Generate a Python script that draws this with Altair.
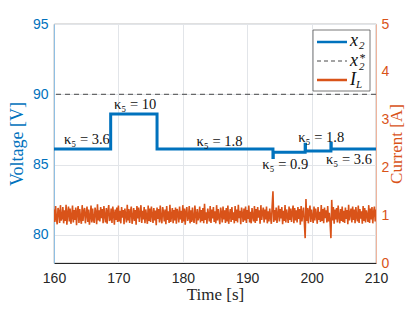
import altair as alt
import pandas as pd
import numpy as np

BLUE = "#0072BD"
ORANGE = "#D95319"
SERIF = "Liberation Serif"
SANS = "Liberation Sans"

# ---- voltage x2 (step trace) ----
v_time = [160, 168.8, 168.8, 176, 176, 194, 194, 194.05, 194.05, 199, 199, 199.05,
          199.05, 203, 203, 203.05, 203.05, 210]
v_vals = [86.1, 86.1, 88.6, 88.6, 86.1, 86.1, 85.5, 85.5, 85.87, 85.87, 86.45, 86.45,
          85.97, 85.97, 86.5, 86.5, 86.1, 86.1]

# ---- reference x2* ----
ref_val = [90]

# ---- current I_L (sampled every 0.125 s from 160 s) ----
i_vals = [
    1.12, 0.86, 1.19, 0.92, 0.81, 1.15, 1.08, 0.84, 1.21, 0.89,
    0.95, 1.17, 0.83, 1.10, 0.88, 1.22, 0.80, 1.05, 1.18, 0.87,
    1.14, 0.82, 0.97, 1.20, 0.85, 1.11, 0.90, 1.16, 0.79, 1.07,
    1.19, 0.84, 1.13, 0.93, 0.82, 1.21, 0.88, 1.09, 1.15, 0.83,
    1.02, 1.18, 0.86, 1.12, 0.80, 0.96, 1.20, 0.85, 1.14, 0.91,
    0.84, 1.16, 1.06, 0.81, 1.23, 0.89, 1.10, 0.87, 1.17, 0.94,
    1.13, 0.83, 1.19, 0.98, 0.85, 1.15, 0.82, 1.08, 1.21, 0.88,
    0.92, 1.14, 0.84, 1.18, 1.03, 0.80, 1.12, 0.90, 1.16, 0.86,
    1.20, 0.87, 1.09, 0.83, 1.17, 0.95, 1.11, 0.81, 1.14, 1.00,
    0.85, 1.22, 0.89, 1.13, 0.84, 1.07, 1.18, 0.82, 0.96, 1.15,
    0.88, 1.11, 0.80, 1.19, 0.93, 1.16, 0.86, 1.04, 1.21, 0.84,
    1.09, 0.91, 1.17, 0.83, 1.12, 0.97, 0.82, 1.20, 0.88, 1.14,
    0.86, 1.18, 1.01, 0.84, 1.15, 0.89, 1.10, 0.79, 1.16, 0.92,
    1.13, 0.85, 1.20, 0.94, 0.83, 1.17, 1.06, 0.87, 1.12, 0.81,
    1.19, 0.90, 1.08, 0.84, 1.22, 0.86, 0.98, 1.15, 0.83, 1.11,
    0.89, 1.16, 0.82, 1.13, 1.04, 0.85, 1.18, 0.91, 1.09, 0.84,
    1.21, 0.87, 1.14, 0.80, 1.07, 1.17, 0.88, 0.95, 1.19, 0.83,
    1.10, 0.86, 1.16, 0.92, 0.84, 1.20, 1.02, 0.81, 1.13, 0.89,
    0.97, 1.18, 0.85, 1.11, 0.88, 1.15, 0.83, 1.24, 0.90, 1.06,
    0.82, 1.14, 1.00, 0.87, 1.19, 0.84, 1.12, 0.93, 1.17, 0.86,
    1.08, 0.83, 1.21, 0.89, 1.13, 0.96, 0.81, 1.16, 1.05, 0.85,
    1.18, 0.91, 1.10, 0.84, 1.15, 0.87, 1.20, 0.82, 0.99, 1.13,
    0.86, 1.17, 0.90, 1.06, 0.83, 1.19, 0.88, 1.12, 0.85, 1.22,
    0.94, 1.09, 0.81, 1.16, 1.03, 0.86, 1.14, 0.89, 1.18, 0.84,
    1.11, 0.92, 1.20, 0.85, 1.07, 0.83, 1.15, 0.97, 0.87, 1.19,
    0.84, 1.13, 0.88, 1.17, 0.95, 1.10, 0.82, 1.21, 0.90, 1.05,
    1.16, 0.85, 1.12, 0.91, 1.18, 0.83, 1.08, 0.87, 1.14, 0.96,
    0.82, 1.19, 1.50, 0.86, 1.11, 0.89, 1.16, 0.84, 1.02, 1.20,
    0.87, 1.13, 0.93, 1.17, 0.81, 1.09, 0.88, 1.21, 0.85, 1.12,
    0.98, 0.84, 1.18, 0.90, 1.14, 0.86, 1.06, 1.20, 0.83, 1.15,
    0.89, 1.10, 0.85, 1.17, 0.92, 1.13, 0.80, 1.19, 0.87, 1.04,
    1.16, 0.84, 0.52, 1.34, 0.88, 1.15, 0.83, 1.09, 1.20, 0.86,
    1.12, 0.95, 0.84, 1.18, 0.89, 1.14, 1.01, 0.82, 1.17, 0.90,
    1.07, 0.86, 1.21, 0.88, 1.13, 0.83, 1.16, 0.94, 1.10, 0.85,
    1.19, 0.87, 1.05, 0.84, 0.52, 1.32, 0.89, 1.17, 0.82, 1.12,
    0.91, 1.15, 0.85, 1.20, 0.97, 0.83, 1.13, 0.88, 1.18, 0.86,
    1.09, 0.84, 1.16, 0.92, 1.11, 0.81, 1.22, 0.89, 1.04, 1.14,
    0.85, 1.18, 0.90, 1.12, 0.83, 1.17, 0.96, 0.87, 1.20, 0.84,
    1.13, 0.93, 1.08, 0.82, 1.19, 0.88, 1.15, 0.85, 1.10, 0.99,
    0.86, 1.21, 0.84, 1.14, 0.91, 1.17, 0.83, 1.06, 1.18, 0.87,
    1.12,
]
i_time = list(np.round(160 + 0.125 * np.arange(len(i_vals)), 3))

# ---- annotations ----
k_labels = ["κ₅ = 3.6", "κ₅ = 10", "κ₅ = 1.8", "κ₅ = 0.9", "κ₅ = 1.8", "κ₅ = 3.6"]
k_t = [165.1, 172.6, 185.7, 195.9, 201.5, 205.8]
k_v = [86.75, 89.24, 86.6, 84.97, 86.9, 85.33]

x_ticks = [160, 170, 180, 190, 200, 210]
v_ticks = [80, 85, 90, 95]
a_ticks = [0, 1, 2, 3, 4, 5]

vdf = pd.DataFrame({"t": v_time, "v": v_vals, "i": range(len(v_time))})
rdf = pd.DataFrame({"v": ref_val})
cdf = pd.DataFrame({"t": i_time, "a": i_vals})
kdf = pd.DataFrame({"t": k_t, "v": k_v, "label": k_labels})

xs = alt.Scale(domain=[160, 210], nice=False, zero=False)
vs = alt.Scale(domain=[78, 95], nice=False, zero=False)
cs = alt.Scale(domain=[0, 5], nice=False, zero=False)

x_axis = alt.Axis(values=x_ticks, title="Time [s]", grid=True, gridColor="#E2E5E9",
                  labelFont=SANS, labelFontSize=14, labelColor="#262626",
                  titleFont=SERIF, titleFontSize=17, titleFontWeight="normal",
                  titleColor="#262626", domainColor="#262626", ticks=False,
                  labelPadding=8, titlePadding=1, labelFlush=False)

v_axis = alt.Axis(orient="left", values=v_ticks, title="Voltage [V]", grid=True,
                  gridColor="#E2E5E9", labelFont=SANS, labelFontSize=14, labelColor=BLUE,
                  titleFont=SERIF, titleFontSize=18, titleFontWeight="normal",
                  titleColor=BLUE, domainColor="#8FBFE3", ticks=False,
                  labelPadding=6, titlePadding=6, labelFlush=False)

a_axis = alt.Axis(orient="right", values=a_ticks, title="Current [A]", grid=False,
                  labelFont=SANS, labelFontSize=14, labelColor=ORANGE,
                  titleFont=SERIF, titleFontSize=17, titleFontWeight="normal",
                  titleColor=ORANGE, domainColor="#EFB49C", ticks=False,
                  titleAngle=270, titleBaseline="top",
                  labelPadding=5, titlePadding=0, labelFlush=False)

current = alt.Chart(cdf).mark_line(color=ORANGE, strokeWidth=1.6, clip=True).encode(
    x=alt.X("t:Q", scale=xs, axis=x_axis),
    y=alt.Y("a:Q", scale=cs, axis=a_axis),
)

voltage = alt.Chart(vdf).mark_line(color=BLUE, strokeWidth=3, clip=True).encode(
    x=alt.X("t:Q", scale=xs, axis=x_axis),
    y=alt.Y("v:Q", scale=vs, axis=v_axis),
    order="i:Q",
)

dashed = alt.Chart(rdf).mark_rule(color="#333333", strokeWidth=0.9,
                                  strokeDash=[5, 4]).encode(
    y=alt.Y("v:Q", scale=vs, axis=v_axis))

texts = alt.Chart(kdf).mark_text(font=SERIF, fontSize=14.5, color="#111111",
                                 baseline="middle").encode(
    x=alt.X("t:Q", scale=xs, axis=x_axis),
    y=alt.Y("v:Q", scale=vs, axis=v_axis),
    text="label:N")

left = alt.layer(voltage, dashed, texts)

# ---- legend box (pixel coordinates inside the plot area) ----
one = pd.DataFrame({"d": [0]})
box = alt.Chart(one).mark_rect(fill="white", stroke="#555555", strokeWidth=0.8).encode(
    x=alt.value(259), x2=alt.value(316), y=alt.value(6), y2=alt.value(67))
l1 = alt.Chart(one).mark_rule(color=BLUE, strokeWidth=2.5).encode(
    x=alt.value(263), x2=alt.value(293), y=alt.value(18))
l2 = alt.Chart(one).mark_rule(color="#333333", strokeWidth=0.9, strokeDash=[4, 3]).encode(
    x=alt.value(263), x2=alt.value(293), y=alt.value(37))
l3 = alt.Chart(one).mark_rule(color=ORANGE, strokeWidth=2.5).encode(
    x=alt.value(263), x2=alt.value(293), y=alt.value(56))

def txt(s, x, y, size):
    return alt.Chart(one).mark_text(text=s, font=SERIF, fontSize=size, fontStyle="italic",
                                    color="#111111", align="left", baseline="alphabetic").encode(
        x=alt.value(x), y=alt.value(y))

legend = alt.layer(
    box, l1, l2, l3,
    txt("x", 296, 22, 18), txt("2", 305, 25, 11),
    txt("x", 296, 42, 18), txt("2", 305, 46, 11), txt("*", 305, 38, 12),
    txt("I", 296, 61, 18), txt("L", 302, 64, 11),
)

chart = alt.layer(current, left, legend).resolve_scale(y="independent").properties(
    width=322, height=239,
    autosize=alt.AutoSizeParams(type="none"),
    padding={"left": 46, "top": 16, "right": 31, "bottom": 41},
).configure_view(stroke="#444444", strokeWidth=0.8)

chart.save("out.html", embed_options={"renderer": "svg", "actions": False})
